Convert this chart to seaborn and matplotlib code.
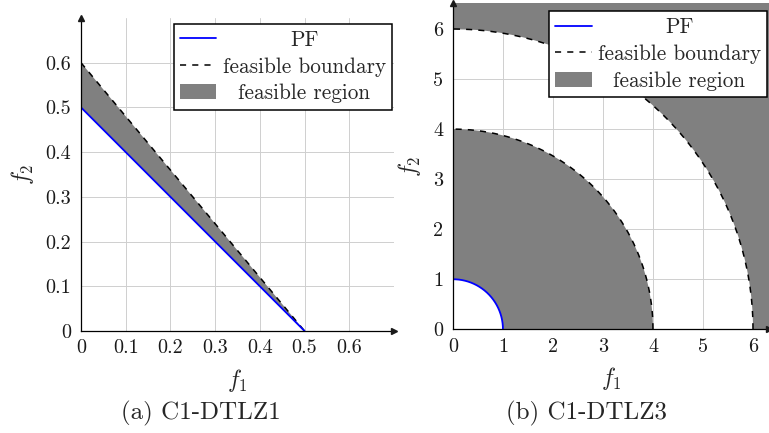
import numpy as np
import matplotlib
matplotlib.use("Agg")
import matplotlib.pyplot as plt
import seaborn as sns
from matplotlib.lines import Line2D
from matplotlib.patches import Patch

# Configuração geral
sns.set_theme(style="whitegrid")
plt.rcParams["font.family"] = ["cmr10", "DejaVu Serif"]
plt.rcParams["mathtext.fontset"] = "cm"
plt.rcParams["axes.formatter.use_mathtext"] = True

# Dados (a) C1-DTLZ1
dtlz1_f1 = [0.0, 0.5]
dtlz1_pf = [0.5, 0.0]
dtlz1_boundary = [0.6, 0.0]
dtlz1_lim = 0.7
dtlz1_ticks = [0, 0.1, 0.2, 0.3, 0.4, 0.5, 0.6]
dtlz1_ticklabels = ["0", "0.1", "0.2", "0.3", "0.4", "0.5", "0.6"]

# Dados (b) C1-DTLZ3
dtlz3_pf_radius = 1.0
dtlz3_boundary_radii = [4.0, 6.0]
dtlz3_xlim = 6.32
dtlz3_ylim = 6.52
dtlz3_ticks = [0, 1, 2, 3, 4, 5, 6]
dtlz3_ticklabels = ["0", "1", "2", "3", "4", "5", "6"]

legend_labels = ["PF", "feasible boundary", "feasible region"]
captions = ["(a) C1-DTLZ1", "(b) C1-DTLZ3"]

PF_COLOR = "#0000ff"
REGION_COLOR = "#808080"
DASH = (0, (4, 4))


def quarter_arc(r, n=200):
    t = np.linspace(0, np.pi / 2, n)
    return r * np.cos(t), r * np.sin(t)


def style_axes(ax, ticks, ticklabels, xlim, ylim):
    ax.set_xlim(0, xlim)
    ax.set_ylim(0, ylim)
    ax.set_xticks(ticks)
    ax.set_xticklabels(ticklabels)
    ax.set_yticks(ticks)
    ax.set_yticklabels(ticklabels)
    ax.set_axisbelow(True)
    ax.grid(True, color="#cfcfcf", lw=0.7)
    for s in ["top", "right"]:
        ax.spines[s].set_visible(False)
    for s in ["left", "bottom"]:
        ax.spines[s].set_color("black")
        ax.spines[s].set_linewidth(0.9)
        ax.spines[s].set_zorder(3)
    ax.tick_params(axis="both", which="major", direction="out", length=3,
                   width=0.6, color="0.55", labelsize=14.5, labelcolor="#1a1a1a")
    ax.tick_params(axis="x", pad=3)
    ax.tick_params(axis="y", pad=4)
    # setas nos eixos
    ax.plot(1, 0, ">k", ms=4, transform=ax.get_yaxis_transform(), clip_on=False, zorder=4)
    ax.plot(0, 1, "^k", ms=4, transform=ax.get_xaxis_transform(), clip_on=False, zorder=4)
    ax.set_xlabel("$f_1$", fontsize=17, labelpad=7)
    ax.set_ylabel("$f_2$", fontsize=17, labelpad=7)


def add_legend(ax, anchor):
    handles = [
        Line2D([], [], color=PF_COLOR, lw=1.3),
        Line2D([], [], color="black", lw=1.1, linestyle=DASH),
        Patch(facecolor=REGION_COLOR, edgecolor="none"),
    ]
    leg = ax.legend(handles, legend_labels, loc="upper left", bbox_to_anchor=anchor,
                    borderaxespad=0, fancybox=False, framealpha=1, edgecolor="black",
                    fontsize=15.3, handlelength=1.7, handletextpad=0.3,
                    labelspacing=0.34, borderpad=0.3)
    leg.get_frame().set_linewidth(1.1)
    leg.set_zorder(5)
    return leg


fig = plt.figure(figsize=(7.69, 4.33), dpi=100)
ax1 = fig.add_axes([0.1053, 0.2356, 0.407, 0.7229])
ax2 = fig.add_axes([0.589, 0.2395, 0.411, 0.7536])

# (a) C1-DTLZ1
ax1.fill_between(dtlz1_f1, dtlz1_pf, dtlz1_boundary, color=REGION_COLOR, lw=0, zorder=1)
sns.lineplot(x=dtlz1_f1, y=dtlz1_boundary, ax=ax1, color="black", lw=1.1,
             linestyle=DASH, sort=False, zorder=2)
sns.lineplot(x=dtlz1_f1, y=dtlz1_pf, ax=ax1, color=PF_COLOR, lw=1.3, sort=False, zorder=2)
style_axes(ax1, dtlz1_ticks, dtlz1_ticklabels, dtlz1_lim, dtlz1_lim)
leg1 = add_legend(ax1, (0.297, 0.981))

# (b) C1-DTLZ3
r_in, r_out = dtlz3_boundary_radii
big = 2 * r_out
px, py = quarter_arc(dtlz3_pf_radius)
ix, iy = quarter_arc(r_in)
ox, oy = quarter_arc(r_out)
ax2.fill(np.concatenate([ix, px[::-1]]), np.concatenate([iy, py[::-1]]),
         color=REGION_COLOR, lw=0, zorder=1)
ax2.fill(np.concatenate([ox, [0, big, big]]), np.concatenate([oy, [big, big, 0]]),
         color=REGION_COLOR, lw=0, zorder=1)
for xs, ys in [(ix, iy), (ox, oy)]:
    sns.lineplot(x=xs, y=ys, ax=ax2, color="black", lw=1.1, linestyle=DASH,
                 sort=False, estimator=None, zorder=2)
sns.lineplot(x=px, y=py, ax=ax2, color=PF_COLOR, lw=1.3, sort=False, estimator=None, zorder=2)
style_axes(ax2, dtlz3_ticks, dtlz3_ticklabels, dtlz3_xlim, dtlz3_ylim)
leg2 = add_legend(ax2, (0.304, 0.975))

# centralizar textos da legenda (estilo pgfplots)
fig.canvas.draw()
for leg in [leg1, leg2]:
    texts = leg.get_texts()
    widths = [t.get_window_extent().width for t in texts]
    for t, w in zip(texts, widths):
        t.set_x((max(widths) - w) / 2)

fig.text(201 / 769, 1 - 413 / 433, captions[0], ha="center", va="center", fontsize=18)
fig.text(586 / 769, 1 - 413 / 433, captions[1], ha="center", va="center", fontsize=18)

fig.savefig("out.png", dpi=100)
